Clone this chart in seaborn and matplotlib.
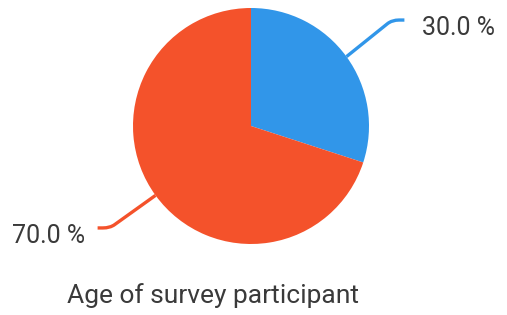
import matplotlib
matplotlib.use("Agg")
import matplotlib.pyplot as plt
from matplotlib.path import Path
from matplotlib.patches import PathPatch
import seaborn as sns
import numpy as np

categories = ["Group A", "Group B"]
values = [30.0, 70.0]
labels = ["30.0 %", "70.0 %"]
colors = ["#3196E9", "#F4522B"]
title = "Age of survey participant"

sns.set_theme(style="white")
plt.rcParams['font.family'] = ['Roboto', 'DejaVu Sans']

W, H = 507, 315
fig = plt.figure(figsize=(W / 100, H / 100), dpi=100)
cx, cy, R = 251, 126, 118
ax = fig.add_axes([(cx - R) / W, (H - cy - R) / H, 2 * R / W, 2 * R / H])
palette = sns.color_palette(colors)
wedges, _ = ax.pie(values, colors=palette, startangle=90, counterclock=False,
                   radius=1.0, wedgeprops=dict(linewidth=0))
ax.set_xlim(-1, 1)
ax.set_ylim(-1, 1)
ax.set_aspect('equal')
ax.axis('off')

txtcol = "#3a3a3a"
for w, lab, col in zip(wedges, labels, palette):
    ang = np.deg2rad((w.theta1 + w.theta2) / 2)
    x0, y0 = np.cos(ang), np.sin(ang)
    side = 1 if x0 > 0 else -1
    ey = 0.898 if y0 > 0 else -0.864
    ex = side * 1.195
    hx = side * 1.30
    # approach point slightly before the elbow for a rounded corner
    t = 0.75
    ax_ = x0 + (ex - x0) * t
    ay_ = y0 + (ey - y0) * t + (ey - y0) * 0.0
    bx_ = ex + side * 0.06
    verts = [(x0, y0), (ax_ + (ex - ax_) * 0.6, ay_ + (ey - ay_) * 0.6), (ex, ey), (bx_, ey), (hx, ey)]
    codes = [Path.MOVETO, Path.LINETO, Path.CURVE3, Path.CURVE3, Path.LINETO]
    patch = PathPatch(Path(verts, codes), facecolor='none', edgecolor=col, lw=2.4,
                      clip_on=False, capstyle='butt', joinstyle='round')
    ax.add_patch(patch)
    if side > 0:
        ax.text((422 - cx) / R, (cy - 35) / R, lab, ha='left', va='baseline',
                fontsize=18, color=txtcol, clip_on=False)
    else:
        ax.text(-(cx - 85) / R, (cy - 243) / R, lab, ha='right', va='baseline',
                fontsize=18, color=txtcol, clip_on=False)

fig.text(213 / W, 1 - 303 / H, title, ha='center', va='baseline', fontsize=19, color=txtcol)

fig.savefig("out.png", dpi=100)
